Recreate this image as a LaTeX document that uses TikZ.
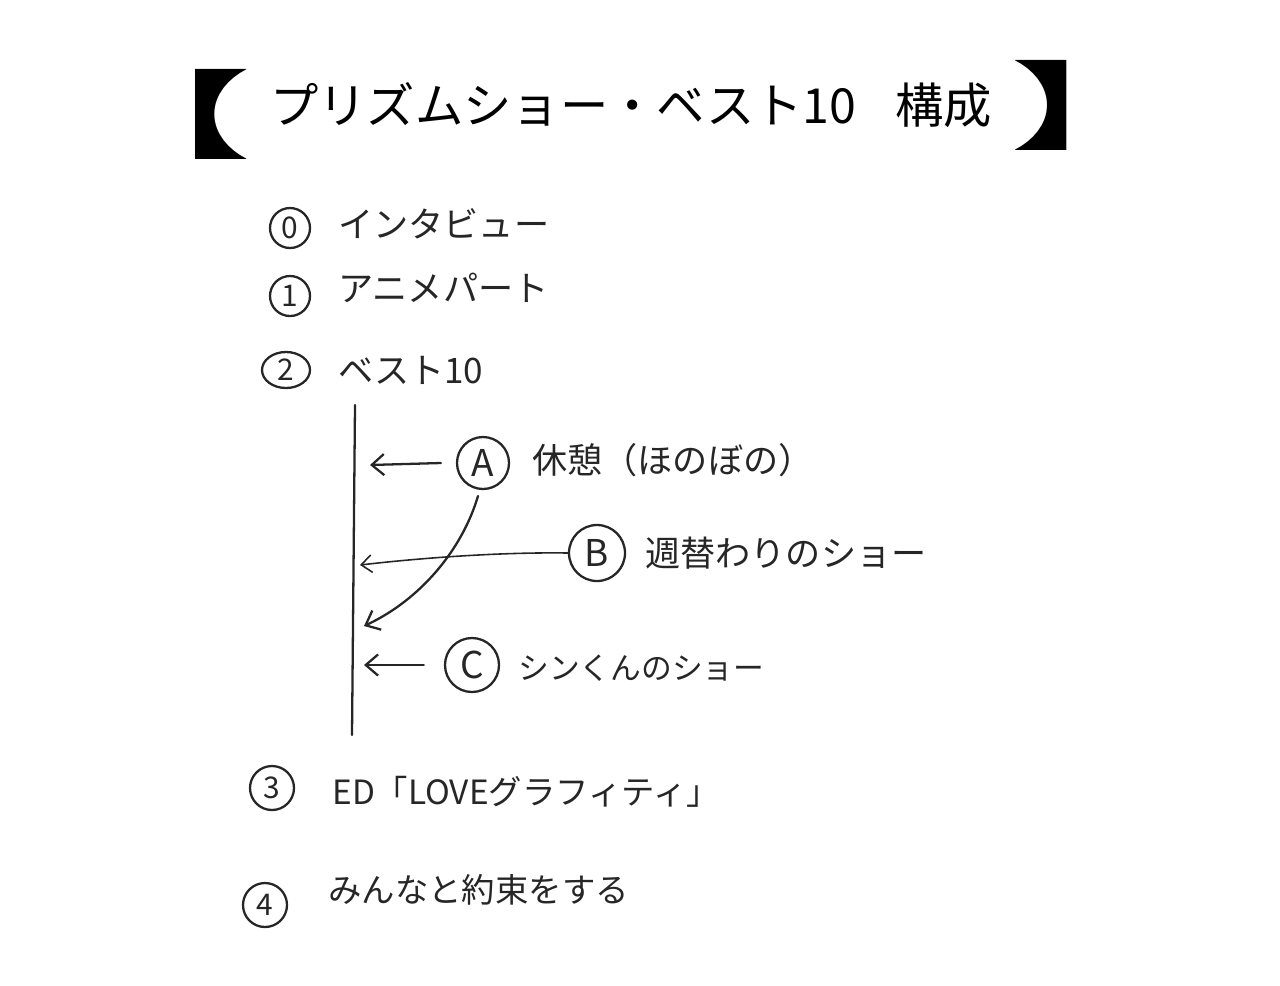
\documentclass[tikz,border=0pt]{standalone}
\usepackage{fontspec}
\newfontfamily\jp{Noto Sans CJK JP}
\usetikzlibrary{arrows.meta,shapes.geometric}
\begin{document}
\begin{tikzpicture}[x=0.02cm,y=-0.02cm,
  ink/.style={line width=1.3pt,line cap=round,black!85},
  lbl/.style={anchor=west,font=\jp\fontsize{20}{22}\selectfont,inner sep=0pt,text=black!85},
  num/.style={draw,circle,ink,minimum size=40*0.02cm,inner sep=0pt,font=\jp\fontsize{17}{18}\selectfont},
  big/.style={draw,circle,ink,minimum size=52*0.02cm,inner sep=0pt,font=\jp\fontsize{21}{22}\selectfont},
  brk/.style={font=\jp\bfseries\fontsize{54}{56}\selectfont,inner sep=0pt,xscale=1.7},
  arr/.style={ink,-{Straight Barb[length=7pt,width=12pt,line width=1.3pt]}}]
\useasboundingbox (0,0) rectangle (1280,985);
% title
\node[brk] (lb) at (170,114) {【};
\node[brk] (rb) at (1092,105) {】};
\node[anchor=west,font=\jp\fontsize{27.5}{30}\selectfont,inner sep=0pt] (title) at (270,105) {プリズムショー・ベスト10\hspace{0.8em}構成};
% items
\node[num] (n0) at (290,228) {0};
\node[lbl] (t0) at (338,224) {インタビュー};
\node[num] (n1) at (290,296) {1};
\node[lbl] (t1) at (338,288) {アニメパート};
\node[draw,ellipse,ink,minimum width=48*0.02cm,minimum height=36*0.02cm,inner sep=0pt,font=\jp\fontsize{17}{18}\selectfont] (n2) at (286,370) {2};
\node[lbl] (t2) at (338,370) {ベスト10};
% vertical line
\coordinate (vt) at (355,405);
\coordinate (vb) at (352,735);
\draw[ink] (vt) -- (vb);
% A
\node[big] (A) at (483,463) {A};
\node[lbl] (tA) at (532,460) {休憩（ほのぼの）};
\coordinate (Aend) at (370,465);
\draw[arr] (A.west) ++(-15,0) -- (Aend);
% B
\node[big,minimum size=56*0.02cm] (B) at (597,553) {B};
\node[lbl] (tB) at (645,553) {週替わりのショー};
\coordinate (Bend) at (360,565);
\draw[ink,line width=0.9pt,-{Straight Barb[length=6pt,width=10pt,line width=0.9pt]}] (B.west) .. controls (500,552) and (420,558) .. (Bend);
% A -> curve
\coordinate (Cend) at (364,626);
\draw[arr] (478,496) .. controls (462,550) and (420,600) .. (Cend);
% C
\node[big,minimum size=54*0.02cm] (C) at (472,665) {C};
\node[lbl,font=\jp\fontsize{17.5}{20}\selectfont] (tC) at (518,668) {シンくんのショー};
\coordinate (Cend2) at (364,665);
\draw[arr] (C.west) ++(-20,0) -- (Cend2);
% 3 and 4
\node[num,minimum size=44*0.02cm] (n3) at (272,788) {3};
\node[lbl,font=\jp\fontsize{19}{21}\selectfont] (t3) at (332,792) {ED「LOVEグラフィティ」};
\node[num,minimum size=44*0.02cm] (n4) at (265,905) {4};
\node[lbl,font=\jp\fontsize{19}{21}\selectfont] (t4) at (328,890) {みんなと約束をする};
\end{tikzpicture}
\end{document}
